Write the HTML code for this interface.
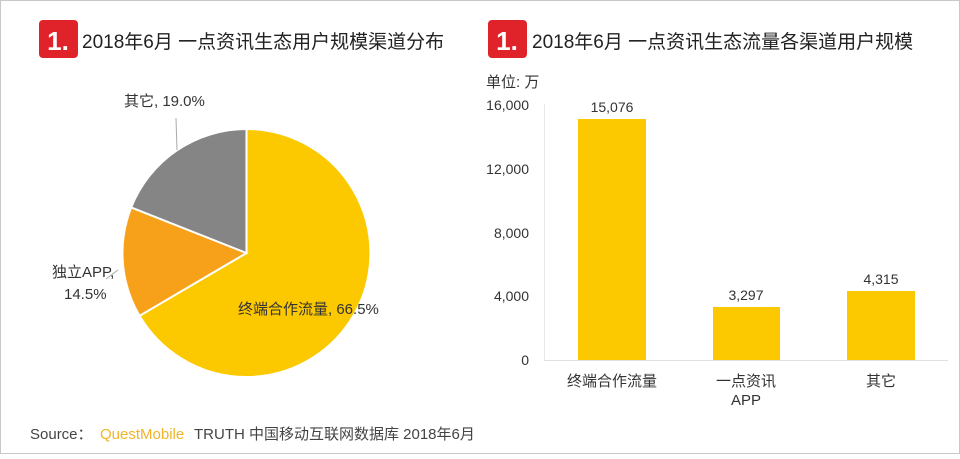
<!DOCTYPE html>
<html><head><meta charset="utf-8"><style>
body{margin:0;background:#fff;}
svg text{font-family:"Liberation Sans","Noto Sans CJK SC",sans-serif;}
</style></head><body>
<svg width="960" height="454" viewBox="0 0 960 454" xmlns="http://www.w3.org/2000/svg">
<rect x="0.5" y="0.5" width="959" height="453" fill="#fff" stroke="#c8c8c8"/>
<!-- title 1 -->
<rect x="39" y="20" width="39" height="38" rx="4" fill="#e0222b"/>
<text x="58" y="50" font-size="26" font-weight="bold" fill="#fff" text-anchor="middle">1.</text>
<text x="82" y="48" font-size="19" fill="#222">2018年6月 一点资讯生态用户规模渠道分布</text>
<!-- title 2 -->
<rect x="488" y="20" width="39" height="38" rx="4" fill="#e0222b"/>
<text x="507" y="50" font-size="26" font-weight="bold" fill="#fff" text-anchor="middle">1.</text>
<text x="532" y="48" font-size="19" fill="#222">2018年6月 一点资讯生态流量各渠道用户规模</text>
<!-- pie -->
<path d="M246.5,253 L246.5,129 A124,124 0 1 1 139.5,315.8 Z" fill="#fcc800" stroke="#fff" stroke-width="2"/>
<path d="M246.5,253 L139.5,315.8 A124,124 0 0 1 131.2,207.4 Z" fill="#f7a11a" stroke="#fff" stroke-width="2"/>
<path d="M246.5,253 L131.2,207.4 A124,124 0 0 1 246.5,129 Z" fill="#858585" stroke="#fff" stroke-width="2"/>
<line x1="176" y1="118" x2="177" y2="150" stroke="#aaa"/>
<line x1="106" y1="279" x2="118" y2="270" stroke="#aaa"/>
<text x="124" y="106" font-size="15" fill="#333">其它, 19.0%</text>
<text x="52" y="277" font-size="15" fill="#333">独立APP,</text>
<text x="64" y="299" font-size="15" fill="#333">14.5%</text>
<text x="238" y="314" font-size="15" fill="#333">终端合作流量, 66.5%</text>
<!-- bar chart -->
<text x="486" y="87" font-size="15" fill="#333">单位: 万</text>
<g font-size="14" fill="#333" text-anchor="end">
<text x="529" y="110">16,000</text>
<text x="529" y="174">12,000</text>
<text x="529" y="238">8,000</text>
<text x="529" y="301">4,000</text>
<text x="529" y="365">0</text>
</g>
<line x1="544.5" y1="104" x2="544.5" y2="360" stroke="#e8e8e8"/>
<line x1="544" y1="360.5" x2="948" y2="360.5" stroke="#e0e0e0"/>
<rect x="578" y="119" width="68" height="241" fill="#fcc800"/>
<rect x="713" y="307" width="67" height="53" fill="#fcc800"/>
<rect x="847" y="291" width="68" height="69" fill="#fcc800"/>
<g font-size="14" fill="#333" text-anchor="middle">
<text x="612" y="112">15,076</text>
<text x="746" y="300">3,297</text>
<text x="881" y="284">4,315</text>
<text x="612" y="386" font-size="15">终端合作流量</text>
<text x="746" y="386" font-size="15">一点资讯</text>
<text x="746" y="405" font-size="15">APP</text>
<text x="881" y="386" font-size="15">其它</text>
</g>
<!-- source -->
<text x="30" y="439" font-size="15" fill="#444">Source：</text>
<text x="100" y="439" font-size="15" fill="#f0b429">QuestMobile</text>
<text x="194" y="439" font-size="15" fill="#444">TRUTH 中国移动互联网数据库 2018年6月</text>
</svg>
</body></html>
